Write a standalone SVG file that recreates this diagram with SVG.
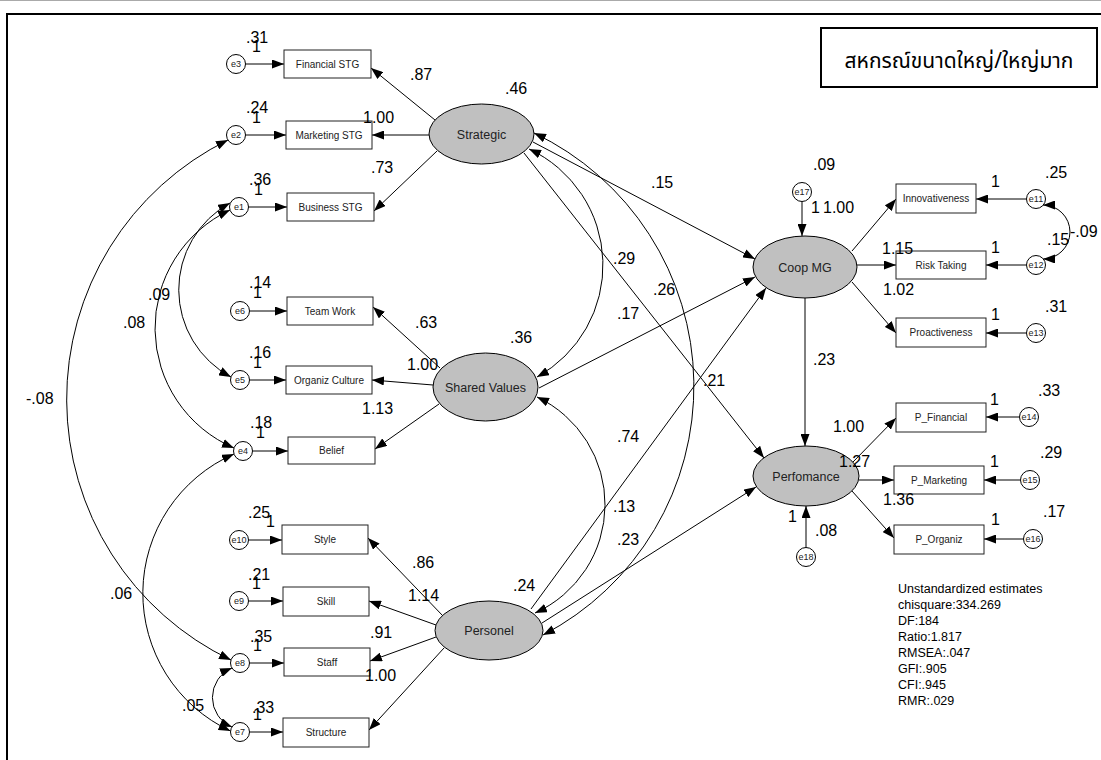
<svg xmlns="http://www.w3.org/2000/svg" width="1101" height="760" viewBox="0 0 1101 760">
  <defs>
    <marker id="arrow" viewBox="0 0 12 9" refX="12" refY="4.5" markerWidth="12" markerHeight="9" markerUnits="userSpaceOnUse" orient="auto-start-reverse">
      <path d="M0,0 L12,4.5 L0,9 z" fill="#000"/>
    </marker>
    <style>
      .box { fill: #fff; stroke: #222; stroke-width: 1; }
      .lat { fill: #c0c0c0; stroke: #000; stroke-width: 1; }
      .err { fill: #fff; stroke: #000; stroke-width: 1; }
      .bt { font-family: "Liberation Sans", Arial, sans-serif; font-size: 10px; fill: #222; text-anchor: middle; }
      .lt { font-family: "Liberation Sans", Arial, sans-serif; font-size: 12.5px; fill: #222; text-anchor: middle; }
      .et { font-family: "Liberation Sans", Arial, sans-serif; font-size: 9px; fill: #222; text-anchor: middle; }
      .num { font-family: "Liberation Sans", Arial, sans-serif; font-size: 16px; fill: #000; }
      .stat { font-family: "Liberation Sans", Arial, sans-serif; font-size: 12.5px; fill: #000; }
      .c { fill: none; stroke: #000; stroke-width: 1; }
      .one { marker-end: url(#arrow); }
      .two { marker-start: url(#arrow); marker-end: url(#arrow); }
    </style>
  </defs>

  <rect width="1101" height="760" fill="#fff"/>
  <line x1="0" y1="0.5" x2="1101" y2="0.5" stroke="#aaa" stroke-width="1"/>
  <rect x="7" y="14" width="1100" height="760" fill="none" stroke="#000" stroke-width="2"/>

  <!-- title -->
  <g id="title">
    <rect x="821" y="28" width="276" height="59" fill="#fff" stroke="#000" stroke-width="2"/>
    <text x="959" y="68" font-family="'Noto Sans Thai', 'Noto Sans', 'DejaVu Sans', sans-serif" font-size="21" text-anchor="middle">สหกรณ์ขนาดใหญ่/ใหญ่มาก</text>
  </g>

  <!-- connectors -->
  <g id="connectors">
    <!-- error terms into indicators -->
    <path class="c one" d="M245.5 64 L284 64"/>
    <path class="c one" d="M245.5 135 L286 135"/>
    <path class="c one" d="M248.5 207 L287 207"/>
    <path class="c one" d="M249.5 311 L287 311"/>
    <path class="c one" d="M249.5 380 L286 380"/>
    <path class="c one" d="M252.5 451 L288 451"/>
    <path class="c one" d="M248.5 540 L282 540"/>
    <path class="c one" d="M248.5 601 L283 601"/>
    <path class="c one" d="M249.5 663 L284 663"/>
    <path class="c one" d="M249.5 732 L283 732"/>
    <path class="c one" d="M1026.5 199 L976 199"/>
    <path class="c one" d="M1026.5 265 L986 265"/>
    <path class="c one" d="M1026.5 333 L986 333"/>
    <path class="c one" d="M1019.5 417 L986 417"/>
    <path class="c one" d="M1020.5 480 L984 480"/>
    <path class="c one" d="M1023.5 539 L984 539"/>
    <path class="c one" d="M802 201.5 L802 236"/>
    <path class="c one" d="M806 547.5 L806 506"/>

    <!-- loadings -->
    <path class="c one" d="M435 120 L371 68"/>
    <path class="c one" d="M429 135 L372 135"/>
    <path class="c one" d="M437 151 L374 211"/>
    <path class="c one" d="M440 368 L373 307"/>
    <path class="c one" d="M433 385 L372 380"/>
    <path class="c one" d="M439 404 L375 449"/>
    <path class="c one" d="M443 616 L368 538"/>
    <path class="c one" d="M436 625 L369 601"/>
    <path class="c one" d="M436 637 L370 661"/>
    <path class="c one" d="M444 648 L369 730"/>
    <path class="c one" d="M852 251 L896 199"/>
    <path class="c one" d="M857 265 L896 265"/>
    <path class="c one" d="M852 282 L896 333"/>
    <path class="c one" d="M853 462 L896 418"/>
    <path class="c one" d="M859 480 L894 480"/>
    <path class="c one" d="M852 491 L894 538"/>

    <!-- structural paths -->
    <path class="c one" d="M533 142 L755 259"/>
    <path class="c one" d="M524 153 L764 458"/>
    <path class="c one" d="M539 388 L755 277"/>
    <path class="c one" d="M531 609 L766 288"/>
    <path class="c one" d="M542 623 L756 487"/>
    <path class="c one" d="M805 298 L805 446"/>

    <!-- covariances -->
    <path class="c two" d="M228 140 A289 289 0 0 0 231 660"/>
    <path class="c two" d="M230 203 A99 99 0 0 0 231 377"/>
    <path class="c two" d="M230 210 A130.5 130.5 0 0 0 234 448"/>
    <path class="c two" d="M234 454 A152 152 0 0 0 230.5 731"/>
    <path class="c two" d="M232 668 A32 32 0 0 0 232 727"/>
    <path class="c two" d="M1043 205 A27 27 0 0 1 1043 259"/>
    <path class="c two" d="M529 149 A128 128 0 0 1 537 377"/>
    <path class="c two" d="M534 133 A280.5 280.5 0 0 1 543 635"/>
    <path class="c two" d="M537 397 A119 119 0 0 1 535 613"/>
  </g>

  <!-- latent variables -->
  <g id="strategic"><ellipse class="lat" cx="481.5" cy="134" rx="52.5" ry="30"/><text class="lt" x="481.5" y="138.5">Strategic</text></g>
  <g id="shared-values"><ellipse class="lat" cx="485.5" cy="387" rx="52.5" ry="34"/><text class="lt" x="485.5" y="391.5">Shared Values</text></g>
  <g id="personel"><ellipse class="lat" cx="489" cy="630.5" rx="54" ry="29.5"/><text class="lt" x="489" y="635">Personel</text></g>
  <g id="coop-mg"><ellipse class="lat" cx="805" cy="267" rx="52" ry="31"/><text class="lt" x="805" y="271.5">Coop MG</text></g>
  <g id="perfomance"><ellipse class="lat" cx="806" cy="476" rx="53" ry="30"/><text class="lt" x="806" y="480.5">Perfomance</text></g>

  <!-- observed variables -->
  <g id="financial-stg"><rect class="box" x="284" y="50" width="87" height="28"/><text class="bt" x="327.5" y="67.5">Financial STG</text></g>
  <g id="marketing-stg"><rect class="box" x="286" y="121" width="86" height="28"/><text class="bt" x="329" y="138.5">Marketing STG</text></g>
  <g id="business-stg"><rect class="box" x="287" y="193" width="87" height="28"/><text class="bt" x="330.5" y="210.5">Business STG</text></g>
  <g id="team-work"><rect class="box" x="287" y="297" width="86" height="28"/><text class="bt" x="330" y="314.5">Team Work</text></g>
  <g id="organiz-culture"><rect class="box" x="286" y="366" width="86" height="28"/><text class="bt" x="329" y="383.5">Organiz Culture</text></g>
  <g id="belief"><rect class="box" x="288" y="437" width="87" height="27"/><text class="bt" x="331.5" y="454">Belief</text></g>
  <g id="style"><rect class="box" x="282" y="525" width="86" height="29"/><text class="bt" x="325" y="543">Style</text></g>
  <g id="skill"><rect class="box" x="283" y="587" width="86" height="29"/><text class="bt" x="326" y="605">Skill</text></g>
  <g id="staff"><rect class="box" x="284" y="648" width="86" height="28"/><text class="bt" x="327" y="665.5">Staff</text></g>
  <g id="structure"><rect class="box" x="283" y="718" width="86" height="29"/><text class="bt" x="326" y="736">Structure</text></g>
  <g id="innovativeness"><rect class="box" x="896" y="184" width="80" height="29"/><text class="bt" x="936" y="202">Innovativeness</text></g>
  <g id="risk-taking"><rect class="box" x="896" y="251" width="90" height="28"/><text class="bt" x="941" y="268.5">Risk Taking</text></g>
  <g id="proactiveness"><rect class="box" x="896" y="318" width="90" height="29"/><text class="bt" x="941" y="336">Proactiveness</text></g>
  <g id="p-financial"><rect class="box" x="896" y="403" width="90" height="29"/><text class="bt" x="941" y="421">P_Financial</text></g>
  <g id="p-marketing"><rect class="box" x="894" y="466" width="90" height="28"/><text class="bt" x="939" y="483.5">P_Marketing</text></g>
  <g id="p-organiz"><rect class="box" x="894" y="525" width="90" height="29"/><text class="bt" x="939" y="543">P_Organiz</text></g>

  <!-- error terms -->
  <g id="e3"><circle class="err" cx="236" cy="64" r="9.5"/><text class="et" x="236" y="67">e3</text></g>
  <g id="e2"><circle class="err" cx="236" cy="135" r="9.5"/><text class="et" x="236" y="138">e2</text></g>
  <g id="e1"><circle class="err" cx="239" cy="207" r="9.5"/><text class="et" x="239" y="210">e1</text></g>
  <g id="e6"><circle class="err" cx="240" cy="311" r="9.5"/><text class="et" x="240" y="314">e6</text></g>
  <g id="e5"><circle class="err" cx="240" cy="380" r="9.5"/><text class="et" x="240" y="383">e5</text></g>
  <g id="e4"><circle class="err" cx="243" cy="451" r="9.5"/><text class="et" x="243" y="454">e4</text></g>
  <g id="e10"><circle class="err" cx="239" cy="540" r="9.5"/><text class="et" x="239" y="543">e10</text></g>
  <g id="e9"><circle class="err" cx="239" cy="601" r="9.5"/><text class="et" x="239" y="604">e9</text></g>
  <g id="e8"><circle class="err" cx="240" cy="663" r="9.5"/><text class="et" x="240" y="666">e8</text></g>
  <g id="e7"><circle class="err" cx="240" cy="732" r="9.5"/><text class="et" x="240" y="735">e7</text></g>
  <g id="e11"><circle class="err" cx="1036" cy="199" r="9.5"/><text class="et" x="1036" y="202">e11</text></g>
  <g id="e12"><circle class="err" cx="1036" cy="265" r="9.5"/><text class="et" x="1036" y="268">e12</text></g>
  <g id="e13"><circle class="err" cx="1036" cy="333" r="9.5"/><text class="et" x="1036" y="336">e13</text></g>
  <g id="e14"><circle class="err" cx="1029" cy="417" r="9.5"/><text class="et" x="1029" y="420">e14</text></g>
  <g id="e15"><circle class="err" cx="1030" cy="480" r="9.5"/><text class="et" x="1030" y="483">e15</text></g>
  <g id="e16"><circle class="err" cx="1033" cy="539" r="9.5"/><text class="et" x="1033" y="542">e16</text></g>
  <g id="e17"><circle class="err" cx="802" cy="192" r="9.5"/><text class="et" x="802" y="195">e17</text></g>
  <g id="e18"><circle class="err" cx="806" cy="557" r="9.5"/><text class="et" x="806" y="560">e18</text></g>

  <!-- estimates -->
  <g id="estimates" class="num">
    <text x="246" y="43">.31</text><text x="252" y="52">1</text>
    <text x="246" y="113">.24</text><text x="252" y="123">1</text>
    <text x="249" y="185">.36</text><text x="254" y="195">1</text>
    <text x="249" y="288">.14</text><text x="253" y="298">1</text>
    <text x="249" y="358">.16</text><text x="253" y="368">1</text>
    <text x="250" y="428">.18</text><text x="256" y="438">1</text>
    <text x="248" y="518">.25</text><text x="266" y="527">1</text>
    <text x="248" y="580">.21</text><text x="252" y="589">1</text>
    <text x="250" y="642">.35</text><text x="253" y="651">1</text>
    <text x="252" y="713">.33</text><text x="253" y="720">1</text>

    <text x="410" y="80">.87</text>
    <text x="505" y="94">.46</text>
    <text x="363" y="123">1.00</text>
    <text x="371" y="173">.73</text>
    <text x="651" y="188">.15</text>
    <text x="613" y="264">.29</text>
    <text x="653" y="295">.26</text>
    <text x="617" y="319">.17</text>
    <text x="510" y="343">.36</text>
    <text x="415" y="328">.63</text>
    <text x="407" y="370">1.00</text>
    <text x="362" y="414">1.13</text>
    <text x="703" y="386">.21</text>
    <text x="617" y="442">.74</text>
    <text x="613" y="512">.13</text>
    <text x="617" y="545">.23</text>
    <text x="412" y="568">.86</text>
    <text x="408" y="601">1.14</text>
    <text x="513" y="591">.24</text>
    <text x="370" y="638">.91</text>
    <text x="365" y="681">1.00</text>

    <text x="148" y="300">.09</text>
    <text x="123" y="328">.08</text>
    <text x="26" y="404">-.08</text>
    <text x="110" y="599">.06</text>
    <text x="182" y="711">.05</text>

    <text x="813" y="170">.09</text>
    <text x="811" y="213">1</text>
    <text x="823" y="213">1.00</text>
    <text x="1045" y="178">.25</text>
    <text x="991" y="187">1</text>
    <text x="1047" y="245">.15</text>
    <text x="1070" y="237">-.09</text>
    <text x="882" y="254">1.15</text>
    <text x="991" y="253">1</text>
    <text x="883" y="295">1.02</text>
    <text x="1045" y="312">.31</text>
    <text x="991" y="320">1</text>
    <text x="813" y="365">.23</text>
    <text x="1038" y="396">.33</text>
    <text x="990" y="405">1</text>
    <text x="833" y="432">1.00</text>
    <text x="839" y="467">1.27</text>
    <text x="1040" y="458">.29</text>
    <text x="990" y="467">1</text>
    <text x="883" y="505">1.36</text>
    <text x="1043" y="517">.17</text>
    <text x="991" y="525">1</text>
    <text x="788" y="522">1</text>
    <text x="815" y="536">.08</text>
  </g>

  <!-- fit summary -->
  <g id="fit" class="stat">
    <text x="898" y="593">Unstandardized estimates</text>
    <text x="898" y="609">chisquare:334.269</text>
    <text x="898" y="625">DF:184</text>
    <text x="898" y="641">Ratio:1.817</text>
    <text x="898" y="657">RMSEA:.047</text>
    <text x="898" y="673">GFI:.905</text>
    <text x="898" y="689">CFI:.945</text>
    <text x="898" y="705">RMR:.029</text>
  </g>
</svg>
